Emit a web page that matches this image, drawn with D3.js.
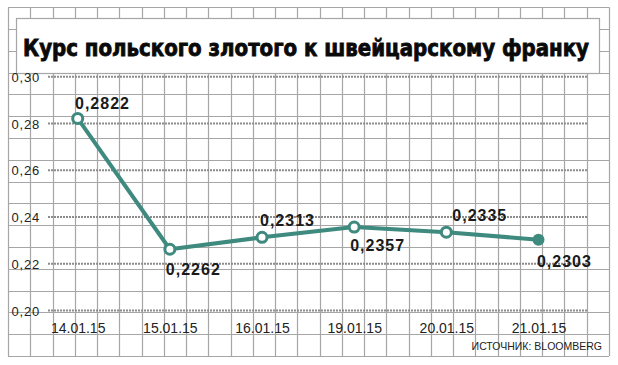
<!DOCTYPE html>
<html><head><meta charset="utf-8">
<script src="https://cdn.jsdelivr.net/npm/d3@7"></script>
<style>
html,body{margin:0;padding:0;background:#fff;}
svg{display:block;}
</style></head>
<body>
<script>
// ---- data ----
const dates = ["14.01.15","15.01.15","16.01.15","19.01.15","20.01.15","21.01.15"];
const rates = [0.2822, 0.2262, 0.2313, 0.2357, 0.2335, 0.2303];
const valueLabels = ["0,2822","0,2262","0,2313","0,2357","0,2335","0,2303"];
const yTicks = [0.20, 0.22, 0.24, 0.26, 0.28, 0.30];
const title = "Курс польского злотого к швейцарскому франку";
const source = "ИСТОЧНИК: BLOOMBERG";

// ---- drawing ----
const W = 618, H = 365;
const svg = d3.select("body").append("svg").attr("width", W).attr("height", H);
const gridColor = "#a6a6a6";
const teal = "#3e8a7f";

// background graph-paper grid
const gx0 = 8, gx1 = 609, gy0 = 7.3, gy1 = 356;
const nx = 27, ny = 16;
const gxs = d3.scaleLinear().domain([0, nx]).range([gx0, gx1]);
const gys = d3.scaleLinear().domain([0, ny]).range([gy0, gy1]);
const grid = svg.append("g").attr("stroke", gridColor).attr("stroke-width", 1.2);
grid.selectAll("line.v").data(d3.range(nx + 1)).join("line")
  .attr("x1", d => Math.round(gxs(d)) + 0.5).attr("x2", d => Math.round(gxs(d)) + 0.5)
  .attr("y1", gy0).attr("y2", gy1);
grid.selectAll("line.h").data(d3.range(ny + 1)).join("line")
  .attr("y1", d => Math.round(gys(d)) + 0.5).attr("y2", d => Math.round(gys(d)) + 0.5)
  .attr("x1", gx0).attr("x2", gx1);

// title box
svg.append("rect").attr("x", 16.5).attr("y", 18.5).attr("width", 583).attr("height", 55)
  .attr("fill", "#fff").attr("stroke", gridColor).attr("stroke-width", 1.2);
svg.append("text").attr("x", 23).attr("y", 55.5)
  .attr("font-family", "'DejaVu Sans Condensed','DejaVu Sans',sans-serif")
  .attr("font-weight", 700).attr("font-size", 23).attr("fill", "#0a0a0a")
  .attr("stroke", "#0a0a0a").attr("stroke-width", 0.8)
  .attr("textLength", 566).attr("lengthAdjust", "spacingAndGlyphs")
  .text(title);

// scales
const y = d3.scaleLinear().domain([0.20, 0.30]).range([310.5, 76.8]);
const x = d3.scalePoint().domain(dates).range([77.7, 538.5]);

// dotted horizontal gridlines
svg.append("g").selectAll("line").data(yTicks).join("line")
  .attr("x1", 48).attr("x2", 587)
  .attr("y1", d => y(d)).attr("y2", d => y(d))
  .attr("stroke", "#8c8c8c").attr("stroke-width", 2)
  .attr("stroke-dasharray", "2,1");

// y axis
const fmt = v => d3.format(".2f")(v).replace(".", ",");
const yAxis = svg.append("g").attr("transform", "translate(40,0)")
  .call(d3.axisLeft(y).tickValues(yTicks).tickFormat(fmt).tickSize(0).tickPadding(0));
yAxis.select(".domain").remove();
yAxis.selectAll("text")
  .attr("font-family", "'Liberation Sans Narrow','Arial Narrow',sans-serif")
  .attr("font-size", 13).attr("letter-spacing", 0.8).attr("fill", "#222")
  .attr("dy", "0.36em");

// x axis
const xAxis = svg.append("g").attr("transform", "translate(0,333)")
  .call(d3.axisBottom(x).tickSize(0).tickPadding(0));
xAxis.select(".domain").remove();
xAxis.selectAll("text")
  .attr("font-family", "'Liberation Sans Narrow','Arial Narrow',sans-serif")
  .attr("font-size", 14).attr("fill", "#222")
  .attr("y", 0).attr("dy", 0);

// line
svg.append("path").datum(rates)
  .attr("d", d3.line().x((d, i) => x(dates[i])).y(d => y(d)))
  .attr("fill", "none").attr("stroke", teal).attr("stroke-width", 4)
  .attr("stroke-linejoin", "round");

// points
svg.append("g").selectAll("circle").data(rates).join("circle")
  .attr("cx", (d, i) => x(dates[i])).attr("cy", d => y(d))
  .attr("r", (d, i) => i === rates.length - 1 ? 6 : 5)
  .attr("fill", (d, i) => i === rates.length - 1 ? teal : "#fff")
  .attr("stroke", teal).attr("stroke-width", (d, i) => i === rates.length - 1 ? 0 : 3);

// value labels (offsets relative to the point)
const labelOffsets = [[-2.7, -9.5], [-4, 26], [-2, -11], [-4, 24], [6, -11.3], [-1.6, 27]];
svg.append("g").selectAll("text").data(valueLabels).join("text")
  .attr("x", (d, i) => x(dates[i]) + labelOffsets[i][0])
  .attr("y", (d, i) => y(rates[i]) + labelOffsets[i][1])
  .attr("font-family", "'Liberation Sans',Arial,sans-serif")
  .attr("font-weight", 700).attr("font-size", 16).attr("letter-spacing", 1)
  .attr("fill", "#1a1a1a")
  .text(d => d);

// source
svg.append("text").attr("x", 602).attr("y", 350).attr("text-anchor", "end")
  .attr("font-family", "'Liberation Sans Narrow','Arial Narrow',sans-serif")
  .attr("font-size", 10.5).attr("fill", "#222")
  .text(source);
</script>
</body></html>
